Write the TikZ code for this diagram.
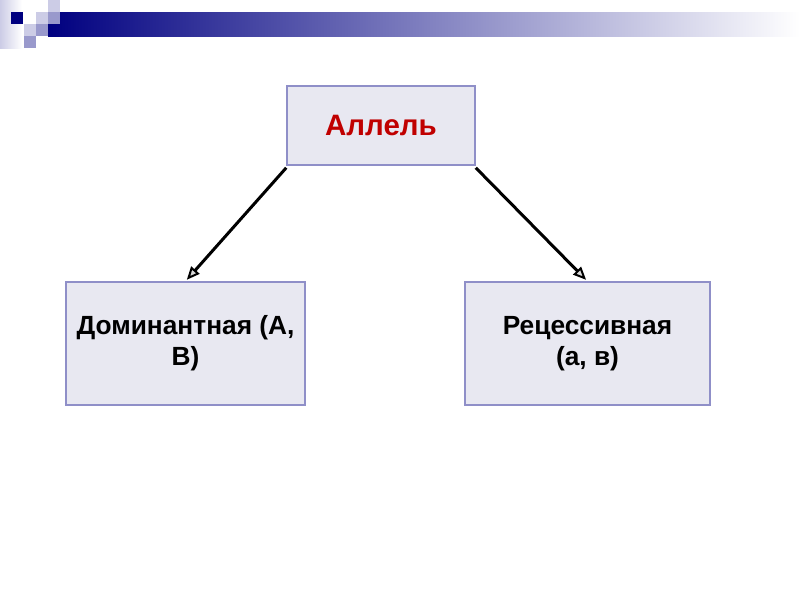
\documentclass[tikz,border=0pt]{standalone}
\usepackage{fontspec}
\setmainfont{Liberation Sans}
\usetikzlibrary{arrows.meta}
\definecolor{navy}{HTML}{000080}
\definecolor{lightsq}{HTML}{CCCCE6}
\definecolor{medsq}{HTML}{9999CC}
\definecolor{boxfill}{HTML}{E8E8F1}
\definecolor{boxline}{HTML}{8F8FC8}
\definecolor{darkred}{HTML}{C00000}
\tikzset{
  conceptbox/.style={draw=boxline, fill=boxfill, line width=1.5pt, align=center, inner sep=0pt},
  link/.style={line width=3pt, black, -{Triangle[open, length=13pt, width=11pt, line width=2pt, fill=gray!30]}, shorten >=2pt},
}
\begin{document}
\begin{tikzpicture}[x=1pt,y=-1pt]
\useasboundingbox (0,0) rectangle (800,600);
\fill[white] (0,0) rectangle (800,600);
% decoration
\shade[left color=lightsq, right color=white] (0,0) rectangle (22,48);
\shade[left color=navy, right color=white] (48,12) rectangle (800,36);
\fill[navy] (11,12) rectangle (23,24);
\fill[lightsq] (36,12) rectangle (48,24);
\fill[medsq] (48,12) rectangle (60,24);
\fill[lightsq] (48,0) rectangle (60,12);
\fill[medsq] (36,24) rectangle (48,36);
\fill[lightsq] (24,24) rectangle (36,36);
\fill[medsq] (24,36) rectangle (36,48);
% nodes
\node[conceptbox, minimum width=188pt, minimum height=79pt, font=\bfseries\fontsize{29.5}{32}\selectfont, text=darkred] (allele) at (381,125.5) {Аллель};
\node[conceptbox, minimum width=239pt, minimum height=123pt, font=\bfseries\fontsize{26.3}{31}\selectfont] (dom) at (185.5,343.5) {Доминантная (А,\\В)};
\node[conceptbox, minimum width=245pt, minimum height=123pt, font=\bfseries\fontsize{26.3}{31}\selectfont] (rec) at (587.5,343.5) {Рецессивная\\(а, в)};
% connectors
\draw[link] ([yshift=-2pt]allele.south west) -- (dom.north);
\draw[link] ([yshift=-2pt]allele.south east) -- (rec.north);
\end{tikzpicture}
\end{document}
